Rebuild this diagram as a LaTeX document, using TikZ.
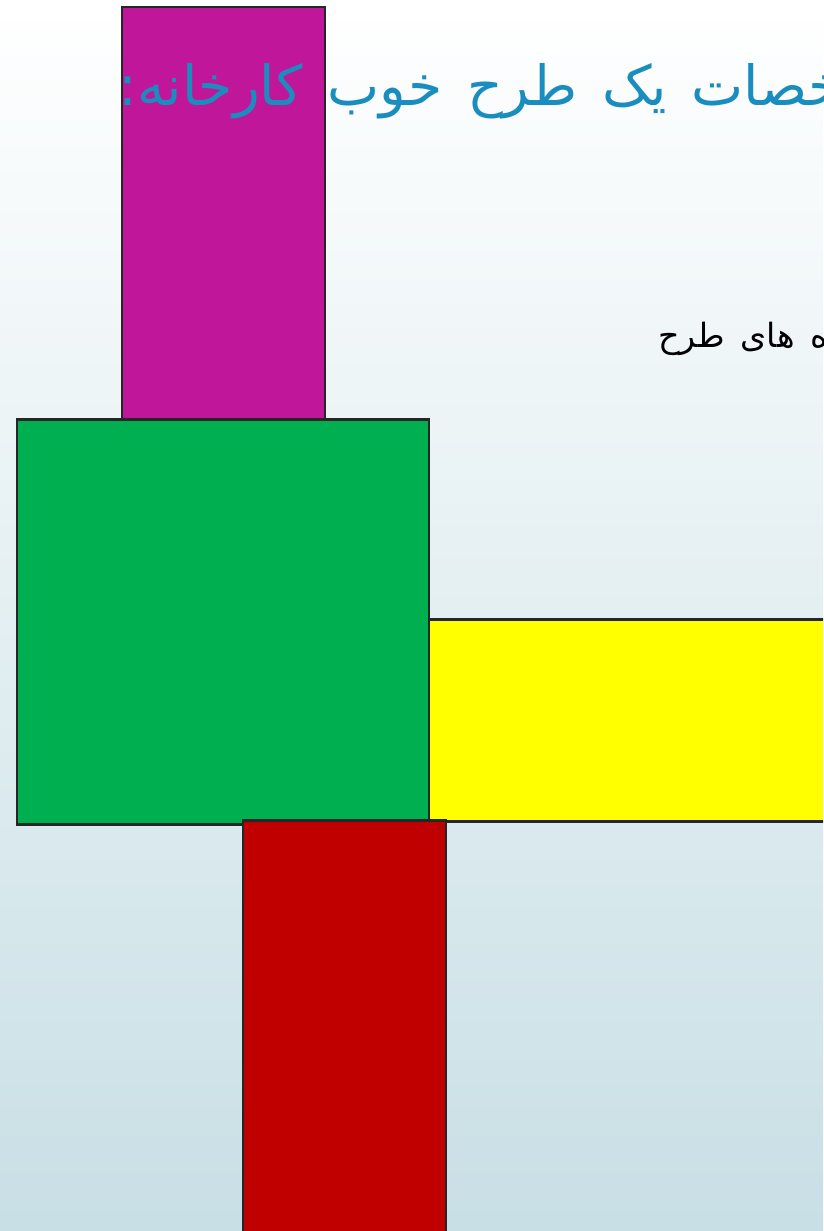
\documentclass[tikz,border=0pt]{standalone}
\usepackage{fontspec}
\newfontfamily\arabicfont[Script=Arabic]{DejaVu Sans}
\TeXXeTstate=1
\definecolor{bgtop}{HTML}{FFFFFF}
\definecolor{bgbot}{HTML}{C8DFE5}
\definecolor{magentabox}{HTML}{C0179A}
\definecolor{greenbox}{HTML}{00AF50}
\definecolor{yellowbox}{HTML}{FFFF00}
\definecolor{redbox}{HTML}{C00000}
\definecolor{edge}{HTML}{262626}
\definecolor{titleblue}{HTML}{1A8DBF}
\newcommand\titlefontsel{\arabicfont\fontsize{31.5}{36}\selectfont\spaceskip=14pt plus 2pt\relax}
\newcommand\bodyfontsel{\arabicfont\fontsize{19}{22}\selectfont\spaceskip=9pt plus 1pt\relax}
\tikzset{
  blockrect/.style={draw=edge, line width=1.7pt},
  titletext/.style={font=\titlefontsel, text=titleblue, inner sep=0pt},
  bodytext/.style={font=\bodyfontsel, text=black, inner sep=0pt}
}
\begin{document}
\begin{tikzpicture}[x=0.02cm,y=-0.02cm]
\useasboundingbox (0,0) rectangle (823,1231);
\clip (0,0) rectangle (823,1231);
\shade[top color=bgtop, bottom color=bgbot] (0,0) rectangle (823,1231);
\draw[blockrect, fill=magentabox] (122,7) rectangle (325,419);
\draw[blockrect, fill=yellowbox] (429,619) rectangle (840,821);
\draw[blockrect, fill=greenbox] (17,419) rectangle (429,824);
\draw[blockrect, fill=redbox] (243,820) rectangle (446,1245);
\node[titletext, anchor=base west] (title) at (118,105) {\beginR مشخصات یک طرح خوب کارخانه:\endR};
\node[bodytext, anchor=base west] (body) at (658,347) {\beginR ه های طرح\endR};
\end{tikzpicture}
\end{document}
